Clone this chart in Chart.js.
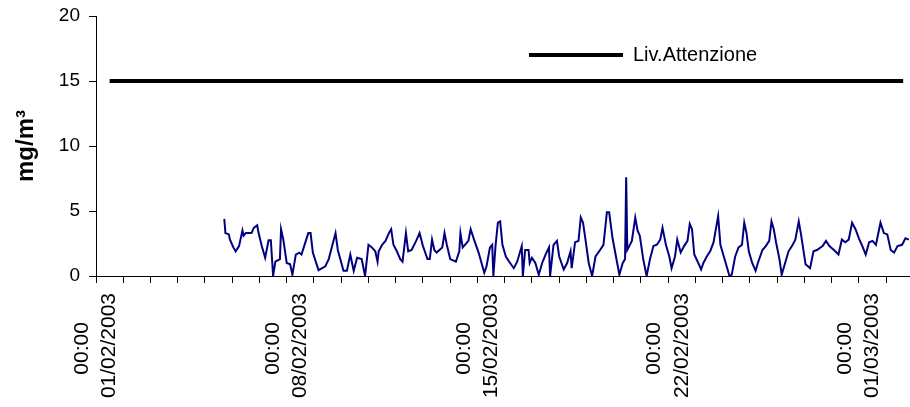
<!DOCTYPE html>
<html>
<head>
<meta charset="utf-8">
<script src="https://cdn.jsdelivr.net/npm/chart.js@4.4.1/dist/chart.umd.min.js"></script>
<style>
  html, body { margin: 0; padding: 0; background: #fff; }
  canvas { display: block; }
</style>
</head>
<body>
<canvas id="chart" width="910" height="407"></canvas>
<script>
// x values are hours counted from 01/02/2003 00:00
const concHours = [
  113, 114, 117, 118, 121, 123, 126, 129, 130, 132, 137, 139, 142, 143, 146, 149,
  152, 154, 156, 158, 162, 163, 165, 168, 171, 173, 176, 179, 181, 187, 189, 191,
  196, 202, 205, 211, 213, 218, 221, 224, 227, 230, 234, 237, 240, 243, 246, 248,
  249, 252, 255, 258, 260, 262, 265, 268, 270, 273, 275, 278, 282, 285, 288, 292,
  294, 296, 298, 300, 305, 307, 309, 312, 317, 320, 321, 323, 325, 328, 330, 333,
  337, 342, 344, 347, 349, 350, 352, 354, 356, 358, 361, 364, 368, 371, 375, 376,
  378, 381, 382, 384, 387, 390, 393, 396, 399, 400, 403, 406, 408, 412, 415, 418,
  419, 422, 425, 427, 429, 431, 434, 437, 440, 444, 447, 450, 452, 455, 458, 461,
  464, 466, 467, 468, 472, 475, 477, 479, 482, 485, 488, 491, 494, 497, 499, 502,
  505, 507, 510, 512, 515, 518, 521, 523, 525, 527, 530, 533, 535, 538, 541, 544,
  546, 548, 550, 553, 556, 558, 560, 563, 566, 569, 571, 573, 575, 578, 581, 583,
  587, 590, 593, 595, 597, 599, 602, 604, 607, 610, 613, 616, 619, 621, 625, 629,
  632, 635, 640, 643, 646, 650, 654, 657, 660, 663, 666, 669, 672, 675, 678, 681,
  684, 687, 691, 694, 697, 700, 703, 706, 710, 713, 716
];
const concValues = [
  4.4, 3.3, 3.2, 2.8, 2.2, 1.9, 2.3, 3.5, 3.1, 3.3, 3.3, 3.7, 3.9, 3.4, 2.3, 1.4,
  2.75, 2.75, 0, 1.1, 1.3, 3.6, 2.8, 1.0, 0.9, 0.1, 1.65, 1.8, 1.65, 3.3, 3.3, 1.8,
  0.45, 0.75, 1.3, 3.3, 2.0, 0.4, 0.4, 1.65, 0.4, 1.4, 1.3, 0, 2.4, 2.2, 1.9, 1.1,
  1.9, 2.4, 2.7, 3.3, 3.6, 2.4, 1.9, 1.3, 1.1, 3.3, 1.9, 2.0, 2.7, 3.3, 2.3, 1.3,
  1.3, 2.8, 2.0, 1.8, 2.2, 3.3, 2.4, 1.3, 1.1, 1.9, 3.3, 2.2, 2.4, 2.7, 3.6, 2.8,
  1.8, 0.25, 0.75, 2.2, 2.4, 0, 2.4, 4.1, 4.2, 2.4, 1.5, 1.1, 0.6, 1.1, 2.3, 0,
  2.0, 2.0, 1.0, 1.4, 1.0, 0.1, 1.0, 1.65, 2.2, 0, 2.4, 2.7, 1.5, 0.5, 1.0, 1.9,
  0.6, 2.6, 2.7, 4.5, 4.1, 2.9, 1.0, 0, 1.5, 2.0, 2.4, 4.9, 4.9, 2.9, 1.5, 0.1,
  1.0, 1.3, 7.6, 2.0, 2.7, 4.5, 3.5, 3.1, 1.3, 0, 1.3, 2.3, 2.4, 2.8, 3.7, 2.4,
  1.5, 0.6, 1.5, 2.8, 1.8, 2.3, 2.7, 4.0, 3.6, 1.65, 1.1, 0.5, 1.0, 1.5, 1.9, 2.6,
  3.6, 4.6, 2.4, 1.5, 0.6, 0, 0.1, 1.5, 2.2, 2.4, 4.1, 3.3, 1.9, 1.0, 0.4, 1.0,
  2.0, 2.3, 2.7, 4.2, 3.6, 2.6, 1.3, 0.1, 1.0, 1.9, 2.3, 2.8, 4.2, 3.2, 0.9, 0.6,
  1.9, 2.0, 2.3, 2.7, 2.3, 2.0, 1.65, 2.8, 2.6, 2.8, 4.1, 3.6, 2.9, 2.3, 1.65, 2.6,
  2.7, 2.4, 4.1, 3.3, 3.2, 2.0, 1.8, 2.3, 2.4, 2.9, 2.8
];

const limitHours = [12, 711];
const limitValues = [15, 15];
const limitLabel = "Liv.Attenzione";

// one tick mark per day, a label every week
const dayTicks = [
  0, 24, 48, 72, 96, 120, 144, 168, 192, 216, 240, 264, 288, 312, 336,
  360, 384, 408, 432, 456, 480, 504, 528, 552, 576, 600, 624, 648, 672, 696
];
const labelHours = [0, 168, 336, 504, 672];
const labelDates = ["01/02/2003", "08/02/2003", "15/02/2003", "22/02/2003", "01/03/2003"];
const labelTime = "00:00";

const yTitle = "mg/m³";

Chart.defaults.font.family = "'Liberation Sans', Arial, sans-serif";
Chart.defaults.color = "#000";

function toPoints(xs, ys) {
  return xs.map((x, i) => ({ x, y: ys[i] }));
}

// puts the legend inside the plot, above the limit line
const placeLegend = {
  id: "placeLegend",
  afterLayout(chart) {
    const legend = chart.legend;
    legend.left = 519;
    legend.top = 35;
    legend.right = legend.left + legend.width;
    legend.bottom = legend.top + legend.height;
  },
};

new Chart(document.getElementById("chart"), {
  type: "line",
  data: {
    datasets: [
      {
        label: limitLabel,
        data: toPoints(limitHours, limitValues),
        borderColor: "#000",
        backgroundColor: "#000",
        borderWidth: 4,
        pointRadius: 0,
      },
      {
        label: "conc",
        data: toPoints(concHours, concValues),
        borderColor: "#000080",
        backgroundColor: "#000080",
        borderWidth: 2,
        pointRadius: 0,
        tension: 0,
      },
    ],
  },
  options: {
    responsive: false,
    animation: false,
    layout: { padding: { top: 16, right: 0, left: 0, bottom: 0 } },
    plugins: {
      tooltip: { enabled: false },
      legend: {
        position: "chartArea",
        align: "start",
        labels: {
          usePointStyle: true,
          pointStyle: "line",
          pointStyleWidth: 94,
          padding: 10,
          font: { size: 20 },
          color: "#000",
          filter: (item) => item.datasetIndex === 0,
        },
      },
    },
    scales: {
      x: {
        type: "linear",
        min: 0,
        max: 717,
        afterBuildTicks: (scale) => {
          scale.ticks = dayTicks.map((v) => ({ value: v }));
        },
        afterFit: (scale) => {
          scale.height = 131;
          scale.paddingLeft = 0;
          scale.paddingRight = 0;
        },
        grid: { drawOnChartArea: false, color: "#000", tickLength: 7 },
        border: { color: "#000" },
        ticks: {
          autoSkip: false,
          minRotation: 90,
          maxRotation: 90,
          padding: 10,
          labelOffset: -13.5,
          font: { size: 21, lineHeight: 1.29 },
          color: "#000",
          callback: (value) => {
            const i = labelHours.indexOf(value);
            // trailing spaces centre the short line under the date
            return i < 0 ? "" : [labelTime + "     ", labelDates[i]];
          },
        },
      },
      y: {
        min: 0,
        max: 20,
        afterFit: (scale) => {
          scale.width = 96;
          scale.paddingTop = 0;
          scale.paddingBottom = 0;
        },
        grid: { drawOnChartArea: false, color: "#000", tickLength: 7 },
        border: { color: "#000" },
        ticks: { stepSize: 5, padding: 9, font: { size: 19 }, color: "#000" },
        title: {
          display: true,
          text: yTitle,
          color: "#000",
          font: { size: 24, weight: "bold" },
          padding: { top: 12, bottom: 0 },
        },
      },
    },
  },
  plugins: [placeLegend],
});
</script>
</body>
</html>
